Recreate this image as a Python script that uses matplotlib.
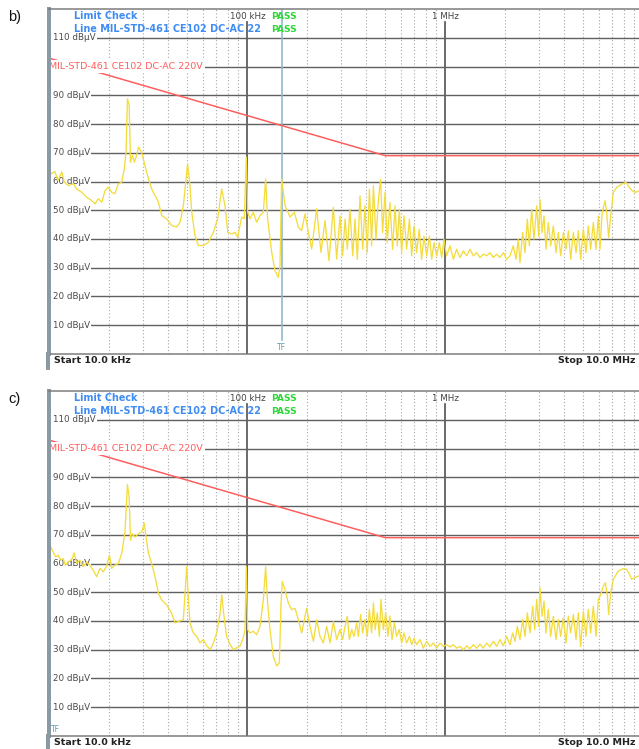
import numpy as np
import matplotlib.pyplot as plt
from matplotlib.lines import Line2D
from matplotlib.ticker import NullLocator

W, H = 639, 749

# ---- data (frequency in kHz, level in dBuV)
b_freq = [10.0, 10.3, 10.7, 11.1, 11.6, 11.95, 12.5, 13.3, 13.8, 14.6,
          15.5, 16.4, 17.1, 17.7, 18.5, 19.2, 19.9, 20.7, 21.5, 22.4,
          23.3, 24.0, 24.5, 24.9, 25.4, 25.8, 26.4, 27.0, 27.7, 28.3,
          29.4, 30.5, 31.8, 33.0, 34.3, 35.7, 37.1, 39.3, 41.6, 44.1,
          45.9, 47.7, 50.1, 51.5, 52.6, 54.6, 56.8, 60.1, 63.8, 67.6,
          71.1, 74.5, 77.4, 79.9, 83.7, 87.0, 89.7, 94.0, 96.9, 99.2,
          100.8, 103.5, 107.6, 111.9, 116.3, 120.9, 124.2, 127.1, 133.3, 138.4,
          143.9, 146.8, 149.6, 155.6, 164.9, 173.4, 181.6, 188.8, 196.4, 204.1,
          212.2, 224.8, 236.4, 247.7, 259.4, 272.9, 283.7,
          295, 304, 313, 321, 331, 342, 351, 361, 372, 384,
          394, 405, 415, 426, 435, 448, 461, 473, 484, 498,
          511, 527, 544, 559, 574, 588, 604, 621, 640, 661,
          679, 697, 719, 741, 762, 783, 808, 834, 857, 880,
          908, 936, 962, 988, 1019, 1060, 1102, 1145, 1191, 1238,
          1287, 1337, 1390, 1445, 1502, 1562, 1623, 1687, 1754, 1823,
          1895, 1970, 2048, 2129, 2213, 2284, 2345, 2391, 2468, 2535,
          2605, 2666, 2740, 2815, 2904, 2972, 3018, 3090, 3162, 3236,
          3324, 3417, 3525, 3636, 3736, 3840, 3960, 4083, 4196, 4313,
          4449, 4588, 4713, 4843, 4996, 5152, 5294, 5441, 5612, 5789,
          5949, 6065, 6207, 6428, 6555, 6709, 6867, 7080, 7362, 7805,
          8207, 8531, 8868, 9112, 9546]
b_level = [63.8, 62.7, 63.5, 60.3, 63.3, 59.8, 58.6, 59.2, 57.4, 56.3,
           54.5, 53.4, 52.2, 54.0, 52.8, 56.9, 58.0, 56.3, 55.7, 59.2,
           59.8, 64.4, 70.2, 88.8, 86.5, 66.7, 69.1, 66.7, 69.1, 72.0,
           70.2, 65.6, 60.9, 57.4, 55.1, 52.8, 48.1, 47.0, 44.7, 44.1,
           45.8, 51.6, 66.2, 58.6, 49.3, 41.2, 37.7, 37.7, 38.8, 42.3,
           47.0, 57.4, 51.6, 42.3, 41.7, 42.3, 40.6, 47.6, 47.0, 68.5,
           49.3, 47.0, 49.3, 45.8, 48.1, 49.3, 60.9, 47.0, 35.3, 29.0,
           26.6, 30.7, 60.9, 51.6, 47.6, 49.3, 44.1, 42.9, 48.7, 42.3,
           36.5, 50.5, 35.3, 46.4, 32.4, 51.0, 33.0,
           48.0, 34.1, 46.9, 36.4, 50.3, 34.1, 46.9, 32.9, 55.0, 36.4,
           51.5, 35.2, 57.3, 37.6, 58.5, 39.9, 53.8, 60.8, 42.2, 56.2,
           38.7, 52.7, 36.4, 51.5, 37.6, 50.3, 35.2, 48.0, 36.4, 46.9,
           34.1, 44.5, 35.2, 43.4, 32.9, 41.0, 34.1, 41.0, 32.9, 38.7,
           34.1, 38.7, 33.5, 39.9, 34.1, 37.6, 32.9, 36.4, 33.5, 35.8,
           34.1, 36.4, 34.1, 35.2, 33.5, 34.7, 34.1, 35.2, 33.5, 34.7,
           33.5, 35.2, 32.9, 34.1, 37.6, 32.9, 39.9, 31.7, 42.2, 35.2,
           46.9, 37.6, 50.3, 39.9, 51.5, 41.0, 53.8, 42.2, 48.0, 36.4,
           45.7, 37.6, 44.5, 35.2, 42.2, 34.1, 42.2, 36.4, 42.8, 32.9,
           42.2, 35.2, 42.8, 32.9, 43.4, 35.2, 44.5, 36.4, 45.7, 36.4,
           48.0, 36.4, 48.6, 53.3, 49.2, 40.5, 48.0, 56.2, 57.9, 59.1,
           59.7, 57.9, 56.7, 56.2, 56.7]

c_freq = [10.0, 10.2, 10.5, 10.8, 11.1, 11.5, 11.8, 12.1, 12.5, 13.0,
          13.4, 13.8, 14.3, 14.9, 15.5, 16.1, 16.7, 17.4, 18.1, 18.8,
          19.5, 20.2, 20.7, 21.5, 22.4, 23.3, 24.2, 24.9, 25.4, 25.8,
          26.4, 27.2, 28.3, 29.4, 30.3, 30.9, 31.8, 33.0, 34.3, 35.7,
          37.1, 39.3, 41.6, 43.3, 45.0, 47.7, 49.6, 50.5, 51.5, 53.6,
          55.7, 57.9, 60.1, 62.8, 65.3, 67.6, 70.3, 73.1, 74.5, 76.2,
          78.9, 82.1, 85.3, 88.7, 92.2, 95.8, 97.7, 99.2, 100.8, 103.5,
          107.6, 111.9, 116.3, 120.9, 124.2, 127.1, 130.7, 135.8, 141.2, 145.7,
          148.5, 150.8, 155.6, 161.8, 168.1, 174.8, 181.7, 188.9, 196.3, 200.1,
          208.0, 216.3, 224.9, 233.7, 243.0, 252.5, 262.6, 272.9, 283.7,
          295, 304, 313, 321, 329, 338, 347, 358, 365, 375,
          384, 394, 405, 415, 426, 435, 444, 455, 466, 475,
          488, 502, 515, 527, 540, 555, 570, 588, 604, 621,
          640, 661, 679, 697, 719, 748, 777, 808, 840, 873,
          908, 943, 981, 1019, 1060, 1102, 1145, 1191, 1238, 1287,
          1337, 1390, 1445, 1502, 1562, 1623, 1687, 1754, 1823, 1895,
          1970, 2048, 2129, 2197, 2257, 2319, 2391, 2468, 2535, 2605,
          2688, 2772, 2838, 2904, 2972, 3018, 3090, 3162, 3236, 3324,
          3417, 3525, 3636, 3736, 3840, 3960, 4083, 4196, 4313, 4449,
          4588, 4713, 4843, 4996, 5152, 5294, 5441, 5612, 5789, 5949,
          6112, 6305, 6454, 6606, 6709, 6867, 7080, 7505, 7956, 8270,
          8531, 8767, 9112, 9546]
c_level = [68.7, 65.8, 64.0, 62.3, 62.9, 61.2, 61.7, 59.4, 60.6, 61.2,
           63.7, 60.0, 61.2, 58.9, 60.6, 59.4, 57.7, 55.4, 58.3, 57.1,
           58.9, 62.9, 58.3, 59.4, 60.0, 63.5, 71.0, 87.5, 83.1, 68.1,
           70.4, 69.2, 70.4, 71.0, 74.1, 69.2, 63.5, 60.0, 55.4, 49.6,
           47.3, 45.6, 42.7, 39.3, 39.8, 40.4, 58.9, 48.5, 39.3, 35.8,
           34.6, 32.3, 33.5, 31.2, 30.0, 32.3, 35.8, 42.7, 49.1, 42.7,
           34.6, 31.8, 30.0, 30.6, 31.2, 34.1, 36.9, 58.9, 36.9, 35.8,
           36.4, 35.2, 38.1, 47.3, 58.9, 46.2, 36.9, 27.7, 24.3, 25.4,
           46.2, 53.7, 50.8, 46.2, 43.9, 44.4, 40.4, 35.8, 41.6, 44.4,
           38.1, 32.9, 40.4, 34.6, 32.3, 38.1, 32.3, 39.8, 33.5,
           37.0, 33.5, 38.1, 41.6, 33.5, 37.0, 34.6, 39.3, 34.6, 42.2,
           35.8, 40.5, 34.6, 44.0, 35.8, 46.3, 37.0, 42.8, 34.6, 47.5,
           37.0, 42.8, 34.6, 41.6, 33.5, 39.3, 34.6, 37.0, 32.3, 35.8,
           32.3, 34.6, 31.7, 34.0, 31.7, 33.5, 30.5, 32.9, 31.1, 32.3,
           30.5, 32.3, 31.1, 31.7, 30.9, 31.7, 30.5, 31.1, 29.9, 31.3,
           30.3, 31.7, 30.5, 31.9, 30.5, 32.3, 30.9, 32.9, 31.1, 33.5,
           31.3, 34.6, 31.7, 35.8, 32.9, 38.1, 33.5, 40.5, 34.6, 42.8,
           35.8, 45.1, 37.0, 47.5, 38.1, 51.6, 41.6, 46.9, 35.8, 44.0,
           34.6, 41.6, 33.5, 40.5, 34.6, 41.1, 32.3, 41.6, 35.8, 42.2,
           33.5, 42.8, 31.1, 43.4, 34.6, 44.0, 35.8, 45.1, 34.6, 47.5,
           49.2, 52.2, 53.3, 48.7, 42.2, 49.8, 54.5, 57.4, 58.2, 58.0,
           56.3, 54.5, 55.1, 55.7]

# CE102 limit, 220 V relaxation
limit_freq = [10, 500, 10000]
limit_level = [103, 69, 69]
grid_levels = [10, 20, 30, 40, 50, 60, 70, 80, 90, 100, 110]
label_levels = [10, 20, 30, 40, 50, 60, 70, 80, 90, 110]
limit_name = "MIL-STD-461 CE102 DC-AC 220V"

BLUE = '#3f8cf5'
GREEN = '#2fd63a'
YELLOW = '#f4dc3c'
RED = '#ff5c5c'
BORDER = '#8a9aa4'
PX = 0.72  # points per pixel at dpi 100

fig = plt.figure(figsize=(W / 100, H / 100), dpi=100)


def ftext(x, y, s, **kw):
    fig.text(x / W, 1 - y / H, s, **kw)


def panel(top, freq, level, tf_khz, letter):
    left, right, height = 49, 643, 344.4
    ax = fig.add_axes([left / W, 1 - (top + height) / H, (right - left) / W, height / H])
    ax.set_xscale('log')
    ax.set_xlim(1e4, 1e7)
    ax.set_ylim(0, 120)
    ax.xaxis.set_major_locator(NullLocator())
    ax.xaxis.set_minor_locator(NullLocator())
    ax.yaxis.set_major_locator(NullLocator())
    ax.set_facecolor('white')
    ax.spines['right'].set_visible(False)
    ax.spines['left'].set_color(BORDER)
    ax.spines['left'].set_linewidth(4 * PX)
    ax.spines['top'].set_color('#7a7a7a')
    ax.spines['top'].set_linewidth(1.5 * PX)
    ax.spines['bottom'].set_color('#7a7a7a')
    ax.spines['bottom'].set_linewidth(1.5 * PX)
    for sp in ax.spines.values():
        sp.set_zorder(10)

    # grid
    for dec in [1e4, 1e5, 1e6]:
        for m in range(2, 10):
            ax.axvline(m * dec, color='#a8a8a8', ls=(0, (1, 2)), lw=0.8, zorder=1)
    for f in [1e5, 1e6]:
        ax.axvline(f, ymax=0.963, color='#555555', lw=1.7 * PX, zorder=2)
    for lev in grid_levels:
        ax.axhline(lev, xmin=0.007, color='#606060', lw=1.4 * PX, zorder=2)
    ytr = ax.get_yaxis_transform()
    for lev in label_levels:
        ax.text(0.0067, lev, f'{lev} dB\u00b5V', transform=ytr, ha='left', va='center',
                fontsize=6.3, color='#4a4a4a', zorder=4,
                bbox=dict(fc='white', ec='none', pad=0.8))

    # transducer marker
    if tf_khz > 10:
        ax.axvline(tf_khz * 1e3, ymin=0.04, color='#8db9c9', lw=1.6 * PX, zorder=2.5)
        ax.text(tf_khz * 1e3, 2.3, 'TF', ha='center', va='center', fontsize=5.5,
                color='#5f9fb2', zorder=4)
    else:
        ax.text(0.003, 2.3, 'TF', transform=ytr, ha='left', va='center', fontsize=5.5,
                color='#5f9fb2', zorder=4)

    # limit line and trace
    ax.plot(np.array(limit_freq) * 1e3, limit_level, color=RED, lw=1.5 * PX, zorder=3)
    ax.text(0.0, 100.2, limit_name, transform=ytr, ha='left', va='center',
            fontsize=6.8, color=RED, zorder=6,
            bbox=dict(fc='white', ec='none', pad=1.5))
    ax.plot(np.array(freq) * 1e3, level, color=YELLOW, lw=1.3 * PX, zorder=5)

    # header rows
    ftext(74, top + 7, 'Limit Check', fontsize=6.9, color=BLUE, weight='bold',
          ha='left', va='center')
    ftext(74, top + 20.2, 'Line MIL-STD-461 CE102 DC-AC 22', fontsize=6.9, color=BLUE,
          weight='bold', ha='left', va='center')
    ftext(247.5, top + 7, '100 kHz', fontsize=6.3, color='#444444', ha='center', va='center')
    ftext(446, top + 7, '1 MHz', fontsize=6.3, color='#444444', ha='center', va='center')
    ftext(271, top + 7, 'PASS', fontsize=6.6, color=GREEN, weight='bold', ha='left', va='center')
    ftext(271, top + 20.2, 'PASS', fontsize=6.6, color=GREEN, weight='bold', ha='left', va='center')

    # bottom status strip
    bot = top + height
    ftext(54, bot + 7, 'Start 10.0 kHz', fontsize=6.8, weight='bold', color='#222222',
          ha='left', va='center')
    ftext(636, bot + 7, 'Stop 10.0 MHz', fontsize=6.8, weight='bold', color='#222222',
          ha='right', va='center')
    fig.add_artist(Line2D([47.5 / W, 47.5 / W], [1 - bot / H, 1 - (bot + 14) / H],
                          color=BORDER, lw=4 * PX))

    ftext(8, top + 7.5, letter, fontsize=10.5, family='Liberation Sans',
          ha='left', va='center', color='#111111')
    return ax


panel(9.3, b_freq, b_level, 150, 'b)')
panel(391.3, c_freq, c_level, 10, 'c)')

fig.savefig('out.png', dpi=100)
